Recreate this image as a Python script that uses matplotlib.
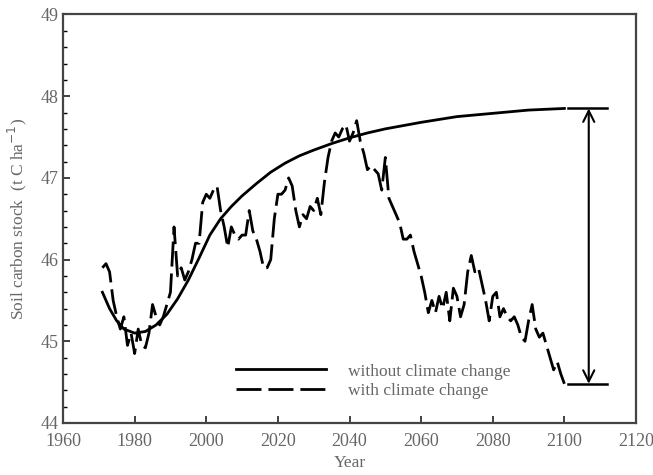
import matplotlib.pyplot as plt
import numpy as np

# without climate change (smooth)
years_base = [1971, 1973, 1975, 1977, 1980, 1983, 1986, 1989, 1992, 1995,
              1998, 2001, 2004, 2007, 2010, 2014, 2018, 2022, 2026, 2030,
              2035, 2040, 2045, 2050, 2055, 2060, 2070, 2080, 2090, 2100]
soc_base = [45.6, 45.4, 45.25, 45.15, 45.1, 45.12, 45.2, 45.33, 45.52, 45.75,
            46.02, 46.3, 46.5, 46.65, 46.78, 46.93, 47.07, 47.18, 47.27, 47.34,
            47.42, 47.49, 47.55, 47.6, 47.64, 47.68, 47.75, 47.79, 47.83, 47.85]

# with climate change (annual)
years_cc = list(range(1971, 2101))
soc_cc = [45.9, 45.95, 45.85, 45.5, 45.3, 45.15, 45.3, 44.95, 45.1, 44.85,
          45.15, 44.95, 44.92, 45.1, 45.45, 45.3, 45.2, 45.3, 45.45, 45.6,
          46.4, 45.8, 45.9, 45.75, 45.85, 46.0, 46.2, 46.2, 46.7, 46.8,
          46.75, 46.85, 46.9, 46.6, 46.4, 46.15, 46.4, 46.3, 46.25, 46.3,
          46.3, 46.6, 46.35, 46.25, 46.1, 45.9, 45.9, 46.0, 46.5, 46.8,
          46.8, 46.85, 47.0, 46.9, 46.6, 46.4, 46.55, 46.5, 46.65, 46.6,
          46.75, 46.55, 46.95, 47.25, 47.45, 47.55, 47.5, 47.6, 47.65, 47.45,
          47.55, 47.7, 47.45, 47.3, 47.1, 47.15, 47.1, 47.05, 46.85, 47.25,
          46.75, 46.65, 46.55, 46.45, 46.25, 46.25, 46.3, 46.1, 45.95, 45.8,
          45.6, 45.35, 45.5, 45.35, 45.55, 45.4, 45.6, 45.25, 45.65, 45.55,
          45.3, 45.45, 45.85, 46.05, 45.85, 45.9, 45.7, 45.5, 45.25, 45.55,
          45.6, 45.3, 45.4, 45.3, 45.25, 45.3, 45.2, 45.05, 45.0, 45.25,
          45.45, 45.15, 45.05, 45.1, 44.95, 44.8, 44.65, 44.75, 44.6, 44.48]

gray = "#666666"
plt.rcParams['font.family'] = ['Liberation Serif', 'DejaVu Serif']

fig = plt.figure(figsize=(6.53, 4.75), dpi=100)
ax = fig.add_axes([0.0965, 0.1095, 0.8775, 0.86])

ax.plot(years_base, soc_base, color="black", lw=2,
        label="without climate change")
ax.plot(years_cc, soc_cc, color="black", lw=2, dashes=(9, 2.5),
        label="with climate change")

# difference bar at 2100
top, bot = soc_base[-1], soc_cc[-1]
ax.plot([2101, 2112], [top, top], color="black", lw=1.8)
ax.plot([2101, 2112], [bot, bot], color="black", lw=1.8)
ax.annotate("", xy=(2106.8, top), xytext=(2106.8, bot),
            arrowprops=dict(arrowstyle="<->", color="black", lw=1.5,
                            shrinkA=0, shrinkB=0, mutation_scale=20))

ax.set_xlim(1960, 2120)
ax.set_ylim(44, 49)
ax.set_xticks(np.arange(1960, 2121, 20))
ax.set_yticks(np.arange(44, 49.1, 1))
ax.set_yticks(np.arange(44, 49.01, 0.2), minor=True)
ax.tick_params(axis="both", direction="in", labelsize=13, labelcolor=gray,
               color="#333333", width=1.3, length=5)
ax.tick_params(axis="y", which="minor", direction="in", length=3, width=1)
ax.tick_params(axis="x", pad=7)
for s in ax.spines.values():
    s.set_linewidth(1.6)
    s.set_color("#444444")

ax.set_xlabel("Year", fontsize=12.5, color=gray, labelpad=4)
ax.set_ylabel("Soil carbon stock  (t C ha$^{-1}$)", fontsize=12.5,
              color=gray, labelpad=8)

ax.legend(loc="lower left", bbox_to_anchor=(0.274, 0.02), frameon=False,
          fontsize=12.5, labelcolor=gray, handlelength=5.2,
          handletextpad=1.3, labelspacing=0.2)

fig.savefig("out.png", dpi=100)
